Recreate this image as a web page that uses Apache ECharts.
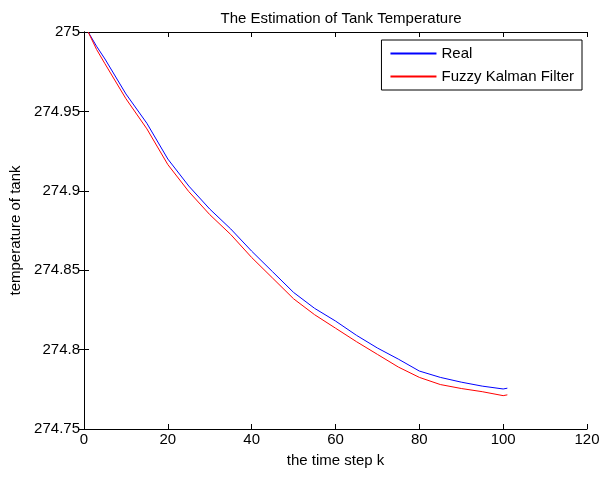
<!DOCTYPE html>
<html>
<head>
<meta charset="utf-8">
<script src="https://cdn.jsdelivr.net/npm/echarts@6/dist/echarts.min.js"></script>
<style>
  html, body { margin: 0; padding: 0; background: #fff; }
  #chart { width: 603px; height: 477px; }
</style>
</head>
<body>
<div id="chart"></div>
<script>
// time steps
const steps = [1, 3, 5, 10, 15, 20, 25, 30, 35, 40, 45, 50, 55, 60, 65, 70, 75, 80, 85, 90, 95, 100, 101]
// Real tank temperature
const realTemp = [275.000, 274.991, 274.983, 274.961, 274.9425, 274.920, 274.903, 274.8885, 274.876, 274.862,
    274.849, 274.836, 274.826, 274.818, 274.809, 274.801, 274.794, 274.7865, 274.7825, 274.7795,
    274.777, 274.7752, 274.7757]
// Fuzzy Kalman Filter estimate
const fkfTemp = [275.000, 274.989, 274.980, 274.958, 274.939, 274.9165, 274.8995, 274.885, 274.8725, 274.858,
    274.845, 274.832, 274.822, 274.8135, 274.805, 274.797, 274.789, 274.7825, 274.778, 274.7755,
    274.7735, 274.771, 274.7715]

const xTicks = { min: 0, max: 120, interval: 20 }
const yTicks = { min: 274.75, max: 275, interval: 0.05 }

const font = 'Liberation Sans, Arial, sans-serif'

const pairs = (xs, ys) => xs.map((x, i) => [x, ys[i]])

const chart = echarts.init(document.getElementById('chart'))

const axisLine = { show: true, lineStyle: { color: '#000', width: 1 } }
const tickIn = { show: true, inside: true, length: 5, lineStyle: { color: '#000' } }

const options = {
    animation: false,
    backgroundColor: '#fff',
    title: {
        text: 'The Estimation of Tank Temperature',
        left: 336, textAlign: 'center', top: 6,
        textStyle: { fontFamily: font, fontSize: 15, fontWeight: 'normal', color: '#000' }
    },
    legend: {
        orient: 'vertical',
        right: 21, top: 40,
        backgroundColor: '#fff',
        borderColor: '#000', borderWidth: 1, borderRadius: 0,
        padding: [5, 8, 5, 9],
        itemGap: 6,
        itemWidth: 46, itemHeight: 2,
        textStyle: { fontFamily: font, fontSize: 15, color: '#000', lineHeight: 17 },
        data: [
            { name: 'Real', icon: 'rect', itemStyle: { color: '#0000ff', borderWidth: 0 } },
            { name: 'Fuzzy Kalman Filter', icon: 'rect', itemStyle: { color: '#ff0000', borderWidth: 0 } }
        ]
    },
    grid: { left: 84, right: 16, top: 32, bottom: 48, containLabel: false },
    xAxis: [{
        type: 'value', ...xTicks,
        name: 'the time step k', nameLocation: 'middle', nameGap: 24,
        nameTextStyle: { fontFamily: font, fontSize: 15, color: '#000' },
        axisLine, axisTick: tickIn, splitLine: { show: false },
        axisLabel: { fontFamily: font, fontSize: 15, color: '#000', margin: 3 }
    }, {
        type: 'value', position: 'top', ...xTicks,
        axisLine, axisTick: tickIn, splitLine: { show: false },
        axisLabel: { show: false }
    }],
    yAxis: [{
        type: 'value', ...yTicks,
        name: 'temperature of tank', nameLocation: 'middle', nameGap: 60,
        nameTextStyle: { fontFamily: font, fontSize: 15, color: '#000' },
        axisLine, axisTick: tickIn, splitLine: { show: false },
        axisLabel: { fontFamily: font, fontSize: 15, color: '#000', margin: 4 }
    }, {
        type: 'value', position: 'right', ...yTicks,
        axisLine, axisTick: tickIn, splitLine: { show: false },
        axisLabel: { show: false }
    }],
    series: [{
        name: 'Real',
        type: 'line',
        data: pairs(steps, realTemp),
        showSymbol: false, symbol: 'none',
        lineStyle: { color: '#0000ff', width: 1 },
        itemStyle: { color: '#0000ff' }
    }, {
        name: 'Fuzzy Kalman Filter',
        type: 'line',
        data: pairs(steps, fkfTemp),
        showSymbol: false, symbol: 'none',
        lineStyle: { color: '#ff0000', width: 1 },
        itemStyle: { color: '#ff0000' }
    }]
}
chart.setOption(options)
</script>
</body>
</html>
